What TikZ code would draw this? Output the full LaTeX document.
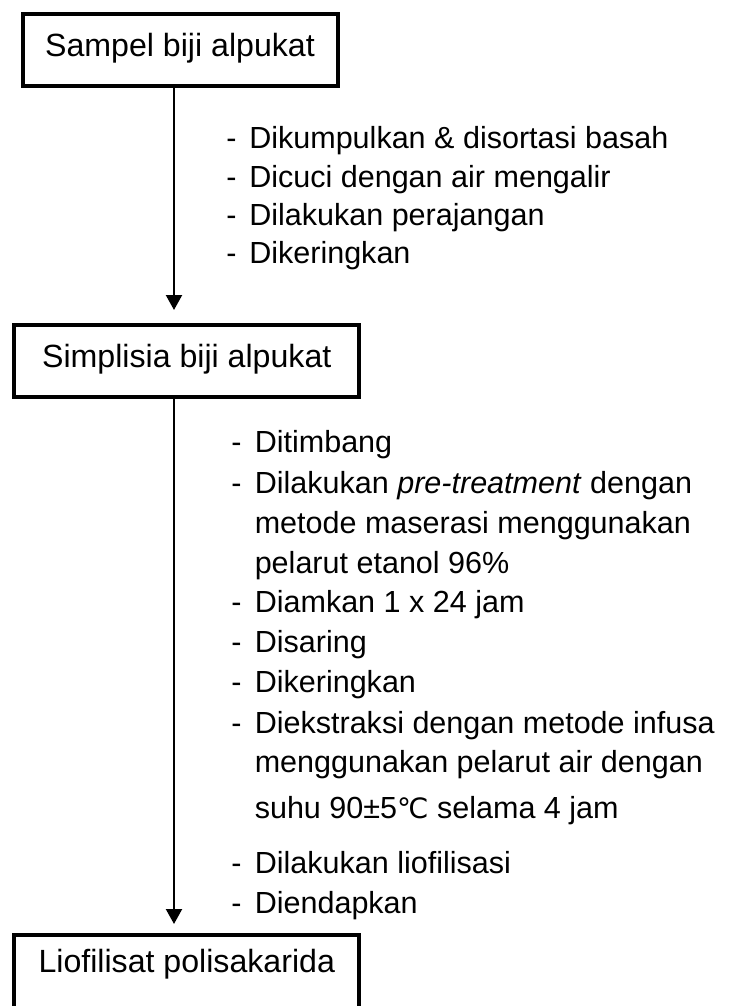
\documentclass[tikz,border=0pt]{standalone}
\usepackage{fontspec}
\setmainfont{Liberation Sans}
\newfontfamily\symfont{DejaVu Sans}
\usetikzlibrary{arrows.meta}
\newcommand{\listfnt}{\fontsize{22.9pt}{27pt}\selectfont}
\newcommand{\boxfnt}{\fontsize{24.1pt}{28pt}\selectfont}
\begin{document}
\begin{tikzpicture}[x=0.75pt,y=-0.75pt,
  flowbox/.style={draw=black,line width=3pt,inner sep=0pt,align=center,font=\boxfnt,anchor=base},
  flowarrow/.style={draw=black,line width=1.6pt,-{Triangle[length=11.25pt,width=12pt]}},
  dashnode/.style={anchor=base west,inner sep=0pt,font=\listfnt},
  itemnode/.style={anchor=base west,inner sep=0pt,font=\listfnt}]
\useasboundingbox (0,0) rectangle (745,1006);
% boxes
\node[flowbox,minimum width=236.25pt,text height=32.6pt,text depth=21.75pt] (b1) at (180,57) {Sampel biji alpukat};
\node[flowbox,minimum width=259.1pt,text height=31.5pt,text depth=22.5pt] (b2) at (186.75,367) {Simplisia biji alpukat};
\node[flowbox,minimum width=259.1pt,text height=27.75pt,text depth=34pt] (b3) at (186.75,972) {Liofilisat polisakarida};
% arrows
\coordinate (t1) at (174,310);
\coordinate (t2) at (174,924);
\draw[flowarrow] (b1.south -| t1) -- (t1);
\draw[flowarrow] (b2.south -| t2) -- (t2);
% list 1
\node[dashnode] (d11) at (226,148) {-};
\node[itemnode] (i11) at (249,148) {Dikumpulkan \& disortasi basah};
\node[dashnode] (d12) at (226,187) {-};
\node[itemnode] (i12) at (249,187) {Dicuci dengan air mengalir};
\node[dashnode] (d13) at (226,225) {-};
\node[itemnode] (i13) at (249,225) {Dilakukan perajangan};
\node[dashnode] (d14) at (226,263) {-};
\node[itemnode] (i14) at (249,263) {Dikeringkan};
% list 2
\node[dashnode] (d21) at (231,452) {-};
\node[itemnode] (i21) at (254.5,452) {Ditimbang};
\node[dashnode] (d22) at (231,493) {-};
\node[itemnode] (i22) at (254.5,493) {Dilakukan \textit{pre-treatment} dengan};
\node[itemnode] (i22b) at (254.5,533) {metode maserasi menggunakan};
\node[itemnode] (i22c) at (254.5,573) {pelarut etanol 96\%};
\node[dashnode] (d23) at (231,612) {-};
\node[itemnode] (i23) at (254.5,612) {Diamkan 1 x 24 jam};
\node[dashnode] (d24) at (231,652) {-};
\node[itemnode] (i24) at (254.5,652) {Disaring};
\node[dashnode] (d25) at (231,692) {-};
\node[itemnode] (i25) at (254.5,692) {Dikeringkan};
\node[dashnode] (d26) at (231,733) {-};
\node[itemnode] (i26) at (254.5,733) {Diekstraksi dengan metode infusa};
\node[itemnode] (i26b) at (254.5,772) {menggunakan pelarut air dengan};
\node[itemnode] (i26c) at (254.5,818) {suhu 90±5{\symfont\fontsize{21pt}{25pt}\selectfont ℃} selama 4 jam};
\node[dashnode] (d27) at (231,873) {-};
\node[itemnode] (i27) at (254.5,873) {Dilakukan liofilisasi};
\node[dashnode] (d28) at (231,913) {-};
\node[itemnode] (i28) at (254.5,913) {Diendapkan};
\end{tikzpicture}
\end{document}
